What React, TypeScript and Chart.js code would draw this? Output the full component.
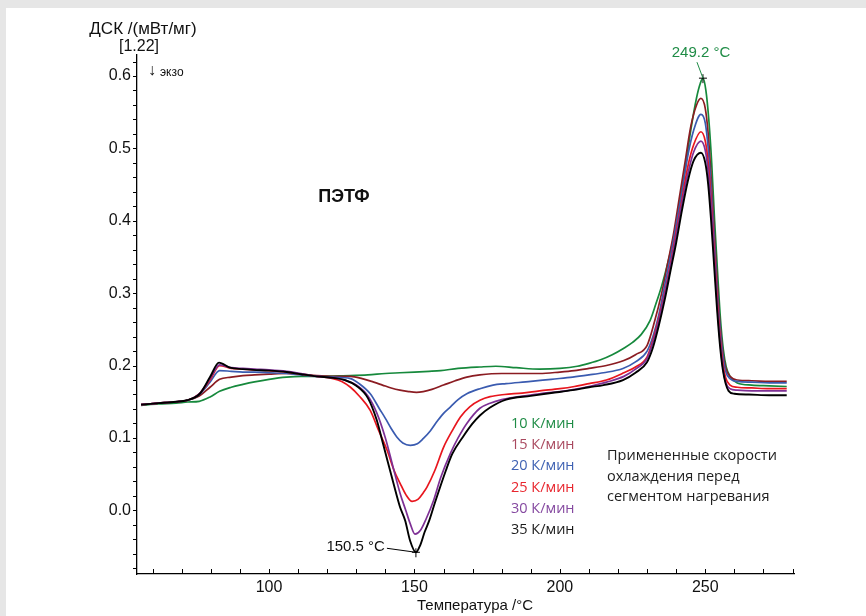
import React, { useEffect, useRef } from "react";
import { Chart, registerables } from "chart.js";

Chart.register(...registerables);

// ---- data (temperature °C / DSC mW/mg) ----
const t10 = [56, 62, 68, 72, 76, 79.7, 83, 87, 91, 95, 100, 106, 111, 116.4, 122, 128, 134, 140, 145, 150, 155, 159, 165, 172.5, 178, 185, 193, 200, 206, 210, 214, 218, 222, 225, 228, 231, 233, 235, 237, 239, 241, 243, 245, 247, 248.3, 249.2, 250.2, 251.2, 252.2, 253.2, 254.2, 255.2, 256.2, 257.2, 258.5, 261, 266, 272, 278];
const v10 = [0.145, 0.147, 0.148, 0.1496, 0.1506, 0.1565, 0.1644, 0.17, 0.174, 0.1775, 0.181, 0.184, 0.185, 0.185, 0.1855, 0.186, 0.187, 0.189, 0.19, 0.191, 0.192, 0.193, 0.196, 0.198, 0.199, 0.197, 0.195, 0.196, 0.199, 0.203, 0.208, 0.215, 0.224, 0.232, 0.243, 0.262, 0.285, 0.31, 0.34, 0.375, 0.42, 0.47, 0.525, 0.57, 0.59, 0.597, 0.58, 0.54, 0.48, 0.4, 0.33, 0.265, 0.222, 0.198, 0.185, 0.176, 0.173, 0.172, 0.171];

const t15 = [56, 62, 68, 72, 76, 79.7, 83, 87, 91, 95, 100, 106, 111, 116.4, 122, 128, 132, 136, 139, 142, 145, 148, 150.7, 153, 156, 160, 164, 168, 172.5, 180, 187, 193, 200, 205, 210, 216, 222, 226, 230, 232.5, 235, 237, 239, 241, 243, 245, 247, 248.5, 250, 251, 252, 253, 254, 255, 256, 257, 258.5, 261, 266, 272, 278];
const v15 = [0.146, 0.148, 0.15, 0.152, 0.158, 0.17, 0.181, 0.184, 0.186, 0.187, 0.188, 0.189, 0.188, 0.186, 0.185, 0.185, 0.182, 0.177, 0.173, 0.169, 0.166, 0.164, 0.163, 0.164, 0.167, 0.173, 0.179, 0.184, 0.187, 0.189, 0.189, 0.189, 0.191, 0.193, 0.196, 0.2, 0.207, 0.215, 0.228, 0.26, 0.3, 0.34, 0.38, 0.43, 0.48, 0.53, 0.56, 0.569, 0.555, 0.52, 0.46, 0.39, 0.32, 0.26, 0.22, 0.197, 0.185, 0.18, 0.179, 0.178, 0.178];

const t20 = [56, 62, 68, 72, 76, 79.7, 83, 87, 91, 95, 100, 106, 111, 116.4, 122, 128, 131, 134.8, 138, 140, 142, 144, 146, 148.6, 151, 153, 155.5, 158, 160, 162.4, 165, 168, 172.5, 177, 181.5, 190, 197, 204.4, 210, 215, 221.7, 226, 230, 232, 234, 236, 238, 240, 242, 244, 246, 248.5, 250, 251, 252, 253, 254, 255, 256, 257, 258.5, 261, 266, 272, 278];
const v20 = [0.146, 0.148, 0.15, 0.152, 0.16, 0.177, 0.193, 0.192, 0.191, 0.191, 0.19, 0.189, 0.187, 0.185, 0.184, 0.182, 0.175, 0.161, 0.14, 0.127, 0.113, 0.101, 0.093, 0.0898, 0.092, 0.099, 0.11, 0.124, 0.134, 0.143, 0.153, 0.161, 0.168, 0.173, 0.175, 0.178, 0.181, 0.184, 0.187, 0.19, 0.196, 0.205, 0.22, 0.24, 0.27, 0.31, 0.35, 0.395, 0.44, 0.49, 0.525, 0.547, 0.535, 0.5, 0.445, 0.38, 0.31, 0.255, 0.215, 0.192, 0.182, 0.178, 0.177, 0.176, 0.176];

const t25 = [56, 62, 68, 72, 76, 79.7, 83, 87, 91, 95, 100, 106, 111, 116.4, 122, 125, 128, 131, 134.8, 137.5, 140.6, 143, 145.1, 147, 149.2, 151.2, 153, 154.3, 157, 160, 163, 165.8, 169, 172.5, 176, 181, 187, 193, 200, 205, 210, 216, 222, 226, 230, 232, 234, 236, 238, 240, 242, 244, 246, 248.5, 250, 251, 252, 253, 254, 255, 256, 257, 258.5, 261, 266, 272, 278];
const v25 = [0.146, 0.148, 0.15, 0.152, 0.161, 0.18, 0.2, 0.196, 0.195, 0.194, 0.193, 0.191, 0.188, 0.185, 0.182, 0.178, 0.17, 0.158, 0.138, 0.112, 0.083, 0.055, 0.037, 0.022, 0.0124, 0.015, 0.024, 0.032, 0.055, 0.087, 0.11, 0.129, 0.143, 0.152, 0.157, 0.16, 0.162, 0.165, 0.168, 0.171, 0.175, 0.18, 0.19, 0.198, 0.212, 0.235, 0.265, 0.3, 0.34, 0.385, 0.43, 0.475, 0.505, 0.523, 0.51, 0.48, 0.43, 0.365, 0.3, 0.245, 0.205, 0.183, 0.173, 0.17, 0.169, 0.168, 0.168];

const t30 = [56, 62, 68, 72, 76, 79.7, 83, 87, 91, 95, 100, 106, 111, 116.4, 122, 126, 130, 134, 137, 140, 142.5, 145.1, 147, 148.5, 150.2, 152, 154, 156.6, 159, 162.4, 165, 168, 172.5, 176, 180, 186, 193, 200, 205, 210, 216, 222, 226, 230, 232, 234, 236, 238, 240, 242, 244, 246, 248.5, 250, 251, 252, 253, 254, 255, 256, 257, 258.5, 261, 266, 272, 278];
const v30 = [0.146, 0.148, 0.15, 0.152, 0.161, 0.182, 0.201, 0.197, 0.196, 0.195, 0.194, 0.192, 0.189, 0.185, 0.183, 0.18, 0.173, 0.158, 0.135, 0.1, 0.062, 0.023, 0.0, -0.018, -0.033, -0.028, -0.012, 0.014, 0.045, 0.079, 0.1, 0.12, 0.141, 0.148, 0.153, 0.157, 0.161, 0.164, 0.167, 0.171, 0.177, 0.185, 0.195, 0.21, 0.232, 0.262, 0.298, 0.337, 0.38, 0.425, 0.465, 0.495, 0.51, 0.497, 0.468, 0.42, 0.355, 0.29, 0.237, 0.198, 0.177, 0.168, 0.166, 0.165, 0.165, 0.165];

const t35 = [56, 62, 68, 71.7, 76.2, 79.7, 82.8, 86.6, 91, 94.6, 100, 106.1, 111, 116.4, 122, 126, 130, 134, 137, 139.2, 142.8, 145, 146.8, 148.5, 150.5, 152, 153.5, 155.1, 157, 160.8, 163, 166.6, 170, 172.5, 176, 181.5, 190, 197, 204.4, 210, 215, 221.7, 226, 230, 232, 234, 236, 238, 240, 242, 244, 246, 248.5, 250, 251, 252, 253, 254, 255, 256, 257, 258, 260, 265, 272, 278];
const v35 = [0.146, 0.148, 0.15, 0.152, 0.161, 0.184, 0.204, 0.197, 0.195, 0.194, 0.193, 0.191, 0.188, 0.185, 0.183, 0.18, 0.172, 0.155, 0.125, 0.092, 0.037, 0.005, -0.014, -0.042, -0.058, -0.048, -0.03, -0.014, 0.01, 0.055, 0.078, 0.101, 0.12, 0.131, 0.142, 0.153, 0.158, 0.162, 0.166, 0.17, 0.173, 0.18, 0.19, 0.205, 0.225, 0.255, 0.29, 0.33, 0.37, 0.415, 0.455, 0.483, 0.494, 0.48, 0.45, 0.4, 0.34, 0.28, 0.23, 0.195, 0.175, 0.165, 0.161, 0.16, 0.159, 0.159];

const rateLabels = ["10 К/мин", "15 К/мин", "20 К/мин", "25 К/мин", "30 К/мин", "35 К/мин"];
const lineColors = ["#16893c", "#8b1c22", "#3a5bb0", "#e8161e", "#7e3095", "#000000"];
const textColors = ["#1f8c46", "#a9495f", "#3f62b3", "#e8262e", "#8549a0", "#1a1a1a"];
const noteLines = ["Примененные скорости", "охлаждения перед", "сегментом нагревания"];
const xTickValues = [100, 150, 200, 250];
const yTickValues = [0.0, 0.1, 0.2, 0.3, 0.4, 0.5, 0.6];

const SANS = '"Liberation Sans", Arial, sans-serif';
const OPEN = '"Open Sans", "Noto Sans", sans-serif';

export default function App() {
  const ref = useRef<HTMLCanvasElement>(null);

  useEffect(() => {
    const canvas = ref.current;
    if (!canvas) return;
    const temps = [t10, t15, t20, t25, t30, t35];
    const vals = [v10, v15, v20, v25, v30, v35];

    const datasets = temps.map((t, i) => ({
      label: rateLabels[i],
      data: t.map((x, j) => ({ x, y: vals[i][j] })),
      borderColor: lineColors[i],
      backgroundColor: lineColors[i],
      borderWidth: i === 5 ? 1.9 : 1.7,
      pointRadius: 0,
      cubicInterpolationMode: "monotone" as const,
      fill: false,
      order: 5 - i,
    }));

    // peak of 10 K/min and minimum of 35 K/min
    let pk = 0;
    v10.forEach((v, j) => { if (v > v10[pk]) pk = j; });
    let mn = 0;
    v35.forEach((v, j) => { if (v < v35[mn]) mn = j; });

    const overlay = {
      id: "overlay",
      beforeDraw(chart: any) {
        const ctx = chart.ctx;
        ctx.save();
        ctx.fillStyle = "#e6e6e6";
        ctx.fillRect(0, 0, chart.width, chart.height);
        ctx.fillStyle = "#ffffff";
        ctx.fillRect(6, 8, chart.width - 6, chart.height - 8);
        ctx.restore();
      },
      afterDraw(chart: any) {
        const ctx = chart.ctx;
        const xs = chart.scales.x;
        const ys = chart.scales.y;
        const area = chart.chartArea;
        ctx.save();
        ctx.strokeStyle = "#000";
        ctx.lineWidth = 1;
        // y minor ticks every 0.02 (outside, left)
        for (let k = -4; k <= 31; k++) {
          const py = Math.round(ys.getPixelForValue(k * 0.02)) + 0.5;
          ctx.beginPath();
          ctx.moveTo(area.left - 4, py);
          ctx.lineTo(area.left, py);
          ctx.stroke();
        }
        // x minor ticks every 10 (inside, upward)
        for (let T = 60; T <= 280; T += 10) {
          const px = Math.round(xs.getPixelForValue(T)) + 0.5;
          ctx.beginPath();
          ctx.moveTo(px, area.bottom);
          ctx.lineTo(px, area.bottom - 5);
          ctx.stroke();
        }

        ctx.fillStyle = "#111";
        ctx.textBaseline = "middle";
        ctx.textAlign = "center";
        ctx.font = `17px ${SANS}`;
        ctx.fillText("ДСК /(мВт/мг)", 143, 29);
        ctx.font = `16px ${SANS}`;
        ctx.fillText("[1.22]", 139, 47);
        ctx.font = `15px ${SANS}`;
        ctx.fillText("Температура /°C", 475, 606);
        ctx.font = `16px ${SANS}`;
        ctx.fillText("↓", 152, 71);
        ctx.textAlign = "left";
        ctx.font = `12px ${SANS}`;
        ctx.fillText("экзо", 160, 73);

        ctx.textAlign = "center";
        ctx.font = `bold 18px ${SANS}`;
        ctx.fillText("ПЭТФ", 344, 197);

        // legend of rates
        ctx.textAlign = "left";
        ctx.font = `14.5px ${OPEN}`;
        const ly = [424, 445, 466, 488, 509, 530];
        rateLabels.forEach((s, i) => {
          ctx.fillStyle = textColors[i];
          ctx.fillText(s, 511, ly[i]);
        });
        ctx.fillStyle = "#222";
        noteLines.forEach((s, i) => ctx.fillText(s, 607, 456 + i * 20.5));

        // markers
        const mx1 = xs.getPixelForValue(t10[pk]);
        const my1 = ys.getPixelForValue(v10[pk]);
        const mx2 = xs.getPixelForValue(t35[mn]);
        const my2 = ys.getPixelForValue(v35[mn]);
        ctx.strokeStyle = "#000";
        ctx.lineWidth = 1;
        [[mx1, my1], [mx2, my2]].forEach(([x, y]) => {
          ctx.beginPath();
          ctx.moveTo(x - 4, y);
          ctx.lineTo(x + 4, y);
          ctx.moveTo(x, y - 4);
          ctx.lineTo(x, y + 5);
          ctx.stroke();
        });
        // peak label
        ctx.strokeStyle = "#1f8c46";
        ctx.beginPath();
        ctx.moveTo(mx1 - 6, my1 - 16);
        ctx.lineTo(mx1, my1);
        ctx.stroke();
        ctx.fillStyle = "#1f8c46";
        ctx.textAlign = "center";
        ctx.font = `15px ${SANS}`;
        ctx.fillText(t10[pk].toFixed(1) + " °C", mx1 - 2, my1 - 25);
        // min label
        ctx.strokeStyle = "#000";
        ctx.beginPath();
        ctx.moveTo(mx2 - 29, my2 - 4);
        ctx.lineTo(mx2, my2);
        ctx.stroke();
        ctx.fillStyle = "#111";
        ctx.textAlign = "right";
        ctx.fillText(t35[mn].toFixed(1) + " °C", mx2 - 31, my2 - 5);
        ctx.restore();
      },
    };

    const chart = new Chart(canvas, {
      type: "line",
      data: { datasets },
      plugins: [overlay],
      options: {
        responsive: false,
        animation: false,
        devicePixelRatio: 1,
        layout: { padding: { top: 55, right: 72, bottom: 0, left: 0 } },
        plugins: { legend: { display: false }, tooltip: { enabled: false } },
        scales: {
          x: {
            type: "linear",
            min: 54.6,
            max: 280.5,
            afterFit: (s: any) => { s.height = 42; },
            grid: { display: false, drawTicks: false },
            border: { display: true, color: "#000", width: 1.3 },
            afterBuildTicks: (s: any) => { s.ticks = xTickValues.map((v) => ({ value: v })); },
            ticks: {
              autoSkip: false,
              padding: 4,
              color: "#111",
              font: { family: SANS, size: 16 },
              maxRotation: 0,
              callback: (v: any) => String(Math.round(Number(v))),
            },
          },
          y: {
            type: "linear",
            min: -0.088,
            max: 0.629,
            afterFit: (s: any) => { s.width = 137; },
            grid: { display: false, drawTicks: false },
            border: { display: true, color: "#000", width: 1.3 },
            afterBuildTicks: (s: any) => { s.ticks = yTickValues.map((v) => ({ value: v })); },
            ticks: {
              autoSkip: false,
              padding: 6,
              color: "#111",
              font: { family: SANS, size: 16 },
              callback: (v: any) => Number(v).toFixed(1),
            },
          },
        },
      },
    } as any);
    return () => chart.destroy();
  }, []);

  return (
    <div style={{ position: "fixed", left: 0, top: 0, width: 866, height: 616 }}>
      <canvas ref={ref} width={866} height={616} style={{ display: "block", width: 866, height: 616 }} />
    </div>
  );
}
